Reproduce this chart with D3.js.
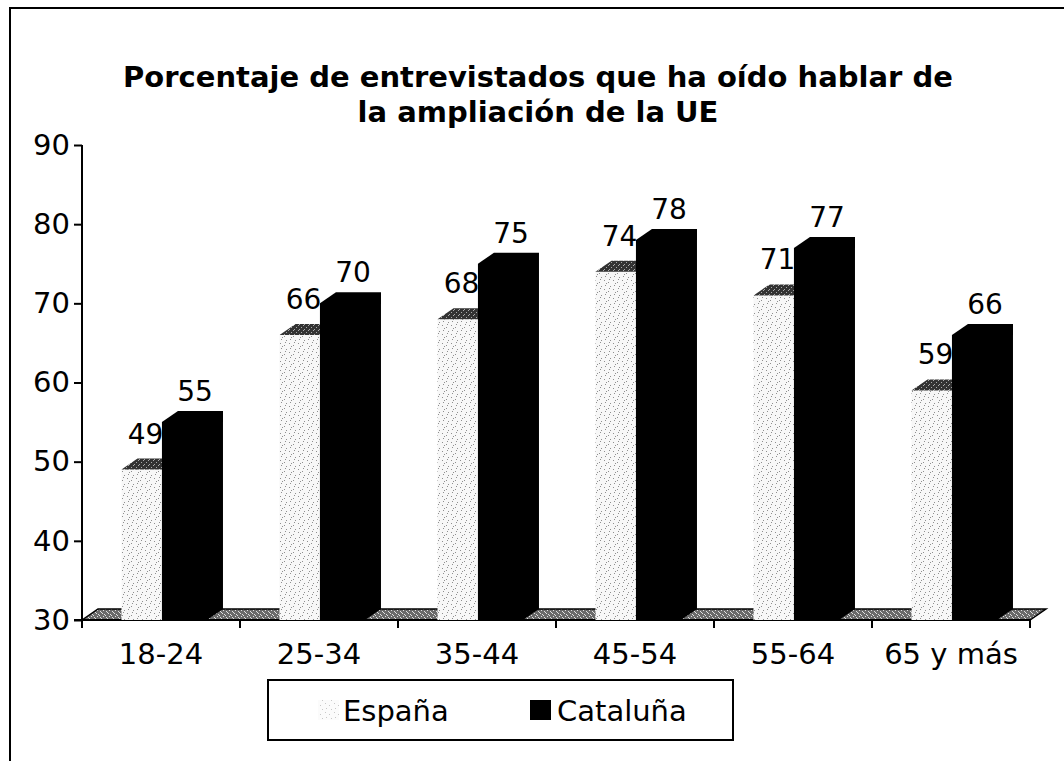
<!DOCTYPE html>
<html>
<head>
<meta charset="utf-8">
<style>
  body { margin: 0; background: #fff; }
  svg { display: block; }
  text { font-family: "DejaVu Sans", Verdana, sans-serif; fill: #000; }
</style>
</head>
<body>
<svg width="1064" height="761"></svg>
<script src="https://d3js.org/d3.v7.min.js"></script>
<script>

var categories = ["18-24", "25-34", "35-44", "45-54", "55-64", "65 y más"];
var espana = [49, 66, 68, 74, 71, 59];
var cataluna = [55, 70, 75, 78, 77, 66];
var yTicks = [30, 40, 50, 60, 70, 80, 90];
var seriesNames = ["España", "Cataluña"];
var titleLines = ["Porcentaje de entrevistados que ha oído hablar de", "la ampliación de la UE"];

var svg = d3.select("svg");

var x = d3.scaleBand().domain(categories).range([82, 1030]);
var y = d3.scaleLinear().domain([30, 90]).range([620, 145]);
var bw = x.bandwidth();
var dx = 16, dy = -11;   // 3d depth offset
var base = y(30);

// stipple patterns
var defs = svg.append("defs");
function stipple(id, size, bg, dotColor, dots) {
  var p = defs.append("pattern").attr("id", id)
      .attr("width", size).attr("height", size).attr("patternUnits", "userSpaceOnUse");
  p.append("rect").attr("width", size).attr("height", size).attr("fill", bg);
  dots.forEach(function(d) {
    p.append("rect").attr("x", d[0]).attr("y", d[1]).attr("width", 1).attr("height", 1).attr("fill", dotColor);
  });
}
stipple("light", 9, "#f7f7f7", "#8f8f8f", [[1, 1], [5, 3], [2, 6], [7, 7], [6, 0], [3, 4]]);
stipple("dark", 5, "#333", "#aaa", [[1, 2], [3, 0], [4, 4]]);
stipple("floor", 6, "#6a6a6a", "#e0e0e0", [[0, 1], [3, 3], [5, 0], [1, 4], [4, 5], [2, 2]]);
stipple("swatch", 9, "#fbfbfb", "#c8c8c8", [[1, 1], [5, 3], [2, 6], [7, 7]]);

// outer frame (only top/left visible)
svg.append("rect").attr("x", 10).attr("y", 8).attr("width", 1200).attr("height", 900)
    .attr("fill", "none").attr("stroke", "#000").attr("stroke-width", 2);

// title
svg.append("g").selectAll("text").data(titleLines).enter().append("text")
    .attr("x", 538).attr("y", function(d, i) { return 87 + i * 35; })
    .attr("text-anchor", "middle")
    .style("font-weight", "bold").style("font-size", "29px")
    .text(function(d) { return d; });

// floor
var x0 = x.range()[0], x1 = x.range()[1];
svg.append("path")
    .attr("d", "M" + x0 + "," + base + "L" + (x0 + dx) + "," + (base + dy) +
               "L" + (x1 + dx) + "," + (base + dy) + "L" + x1 + "," + base + "Z")
    .attr("fill", "url(#floor)").attr("stroke", "#000").attr("stroke-width", 1.5);

// axes
var yAxis = svg.append("g").attr("transform", "translate(82,0)")
    .call(d3.axisLeft(y).tickValues(yTicks).tickSize(8).tickPadding(4));
yAxis.select(".domain").attr("stroke", "#000").attr("stroke-width", 2).attr("d", "M0," + y(90) + "V" + base);
yAxis.selectAll(".tick line").attr("stroke", "#000").attr("stroke-width", 2);
yAxis.selectAll("text").style("font-size", "29px").attr("font-family", null);

svg.append("line").attr("x1", 74).attr("x2", x1).attr("y1", base).attr("y2", base)
    .attr("stroke", "#000").attr("stroke-width", 2);
var bounds = categories.map(function(c) { return x(c); }).concat([x1]);
svg.append("g").selectAll("line").data(bounds).enter().append("line")
    .attr("x1", function(d) { return d; }).attr("x2", function(d) { return d; })
    .attr("y1", base).attr("y2", base + 8)
    .attr("stroke", "#000").attr("stroke-width", 2);
svg.append("g").selectAll("text").data(categories).enter().append("text")
    .attr("x", function(d) { return x(d) + bw / 2; }).attr("y", 664)
    .attr("text-anchor", "middle").style("font-size", "29px")
    .text(function(d) { return d; });

// bars
var g = svg.append("g");
categories.forEach(function(c, i) {
  var ex = x(c) + bw * 0.25, ew = bw * 0.26, et = y(espana[i]);
  g.append("rect").attr("x", ex).attr("y", et).attr("width", ew).attr("height", base - et)
      .attr("fill", "url(#light)");
  g.append("path")
      .attr("d", "M" + ex + "," + et + "L" + (ex + dx) + "," + (et + dy) + "L" + (ex + ew + dx) + "," + (et + dy) +
                 "L" + (ex + ew) + "," + et + "Z")
      .attr("fill", "url(#dark)");
  g.append("text").attr("x", ex + 24).attr("y", et - 26).attr("text-anchor", "middle")
      .style("font-size", "28px").text(espana[i]);

  var cx = x(c) + bw * 0.506, cw = bw * 0.285, ct = y(cataluna[i]);
  g.append("path")
      .attr("d", "M" + cx + "," + base + "L" + cx + "," + ct + "L" + (cx + dx) + "," + (ct + dy) +
                 "L" + (cx + cw + dx) + "," + (ct + dy) + "L" + (cx + cw + dx) + "," + (base + dy) +
                 "L" + (cx + cw) + "," + base + "Z")
      .attr("fill", "#000");
  g.append("text").attr("x", cx + 33).attr("y", ct - 21).attr("text-anchor", "middle")
      .style("font-size", "28px").text(cataluna[i]);
});

// legend
var leg = svg.append("g");
leg.append("rect").attr("x", 268).attr("y", 680).attr("width", 465).attr("height", 60)
    .attr("fill", "#fff").attr("stroke", "#000").attr("stroke-width", 2);
var swatches = [{x: 318, fill: "url(#swatch)"}, {x: 530, fill: "#000"}];
seriesNames.forEach(function(s, i) {
  leg.append("rect").attr("x", swatches[i].x).attr("y", 700).attr("width", 21).attr("height", 20)
      .attr("fill", swatches[i].fill);
  leg.append("text").attr("x", swatches[i].x + (i === 0 ? 25 : 27)).attr("y", 721)
      .style("font-size", "29px").text(s);
});

</script>
</body>
</html>
